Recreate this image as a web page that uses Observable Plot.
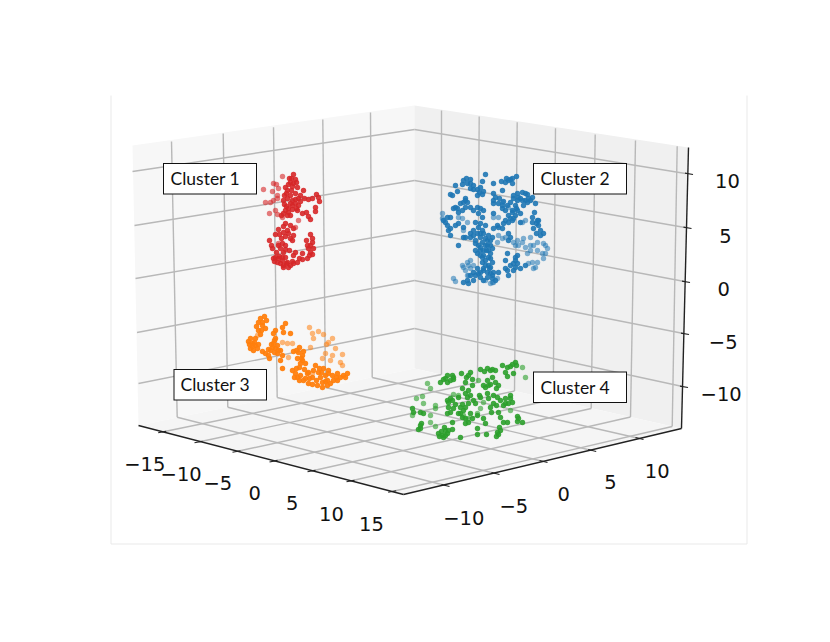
<!DOCTYPE html>
<html><head><meta charset="utf-8">
<style>html,body{margin:0;padding:0;background:#fff}svg{display:block}</style>
<script src="https://cdn.jsdelivr.net/npm/d3@7"></script>
<script src="https://cdn.jsdelivr.net/npm/@observablehq/plot@0.6"></script>
</head><body><div id="c"></div>
<script>
// All positions are in the picture plane of the 3-D projection.
const cluster1Near=[[293,174],[291,178],[295,179],[290,182],[293,183],[288,184],[297,187],[303,190],[287,190],[291,190],[286,193],[290,195],[295,193],[300,195],[287,198],[292,200],[295,199],[298,198],[292,205],[295,203],[288,208],[292,209],[285,210],[283,213],[288,212],[297,210],[302,213],[308,216],[310,219],[308,199],[312,198],[316,194],[318,197],[319,201],[315,207],[315,211],[284,204],[298,205],[285,223],[290,225],[293,228],[278,229],[283,232],[279,234],[285,236],[290,238],[292,240],[282,243],[278,245],[285,245],[310,234],[269,240],[271,245],[272,248],[312,242],[310,245],[308,248],[313,248],[310,252],[312,254],[285,249],[283,252],[295,252],[302,253],[275,257],[278,258],[282,257],[285,257],[293,255],[302,259],[307,258],[277,262],[280,263],[283,265],[290,265],[293,263],[297,262],[282,260],[287,262],[292,261],[288,267],[283,267],[273,258],[289,178],[292,186],[296,182],[285,187],[284,195],[283,200],[290,203],[286,206],[290,215],[287,215],[296,208],[300,201],[304,198],[306,212],[281,215],[275,234],[281,238],[287,230],[283,226],[288,233],[293,235],[280,248],[276,252],[289,250],[312,238],[307,245],[309,255],[306,240],[286,263],[279,256],[274,261],[299,258]];
const cluster1Far=[[263,189],[282,176],[273,183],[276,184],[272,191],[278,188],[277,195],[265,202],[270,202],[273,200],[277,198],[269,213],[275,210],[277,214],[282,217],[298,220],[295,227],[278,243]];
const cluster2Near=[[485,174],[466,178],[470,179],[482,181],[462,184],[467,183],[470,188],[480,187],[473,189],[479,192],[477,195],[482,194],[450,194],[452,195],[457,191],[493,183],[502,190],[501,181],[506,178],[510,179],[516,176],[512,183],[493,193],[513,195],[517,193],[522,192],[527,194],[532,197],[530,200],[513,198],[517,200],[515,205],[499,198],[503,201],[493,200],[493,203],[512,210],[502,208],[510,218],[520,213],[523,205],[535,203],[532,217],[537,220],[538,225],[540,230],[543,233],[477,207],[465,207],[463,202],[455,207],[458,212],[447,217],[450,217],[443,220],[447,225],[448,230],[450,235],[458,223],[463,227],[473,210],[480,208],[483,210],[480,223],[478,227],[482,230],[483,233],[473,235],[470,237],[475,240],[480,237],[482,242],[487,240],[492,237],[493,228],[498,227],[503,223],[508,222],[513,218],[520,222],[508,233],[502,228],[510,237],[490,245],[488,250],[480,250],[475,250],[480,255],[483,255],[490,253],[485,260],[482,262],[488,265],[490,258],[507,253],[517,255],[515,260],[513,263],[508,240],[465,237],[458,245],[463,237],[477,268],[473,272],[478,273],[483,270],[487,272],[490,273],[493,272],[498,272],[473,280],[467,280],[463,282],[468,283],[483,280],[492,278],[495,280],[507,270],[508,275],[513,270],[520,268],[525,265],[515,267],[480,233],[485,245],[478,245],[512,212],[516,208],[525,200],[520,198],[486,250],[475,243],[489,268],[470,275],[505,268],[533,228],[536,233],[465,200],[455,185],[470,183],[473,185],[477,189],[483,191],[463,180],[508,180],[505,182],[512,178],[518,197],[525,193],[528,198],[522,200],[510,202],[507,205],[515,215],[517,210],[508,215],[505,220],[512,220],[497,225],[488,235],[485,238],[470,233],[477,233],[473,230],[490,240],[487,245],[480,247],[483,250],[492,248],[477,253],[482,257],[488,257],[492,262],[485,265],[490,267],[483,268],[480,272],[475,275],[487,277],[492,275],[480,277],[515,257],[517,263],[510,265],[505,260],[465,198],[460,203],[457,208],[453,208],[462,210],[467,202],[470,207],[455,225],[445,222],[450,228],[536,223],[538,220],[540,235],[532,222],[534,212],[527,202],[495,197],[498,203],[502,205],[505,210],[493,213],[478,213],[482,217],[475,222],[485,225]];
const cluster2Far=[[493,217],[498,217],[462,218],[467,222],[442,213],[442,218],[530,237],[523,238],[530,245],[525,247],[543,243],[545,245],[513,242],[515,245],[518,245],[502,238],[498,235],[537,250],[542,253],[545,253],[537,262],[532,262],[528,263],[535,267],[533,268],[470,260],[467,262],[462,265],[468,265],[465,270],[468,275],[453,278],[455,281],[493,282],[485,280],[525,220],[522,222],[502,202],[508,207],[463,230],[458,217],[473,265],[470,268],[530,250],[527,253],[537,242],[533,245],[543,258],[547,248],[505,237],[517,240],[522,242],[497,242],[497,278],[490,283],[492,282],[467,275],[463,267]];
const cluster3Near=[[264,316],[260,318],[258,322],[262,325],[265,328],[258,330],[260,334],[255,338],[250,338],[248,341],[252,343],[255,345],[250,348],[253,350],[257,348],[275,330],[273,333],[275,338],[273,343],[272,347],[275,348],[270,350],[265,353],[268,355],[277,353],[280,350],[282,355],[282,327],[285,323],[283,332],[290,333],[280,360],[282,368],[293,351],[299,347],[302,355],[297,358],[302,360],[305,363],[300,363],[292,370],[295,373],[297,377],[300,375],[303,380],[308,383],[307,373],[312,377],[315,365],[318,372],[323,368],[320,377],[325,375],[328,373],[322,382],[327,380],[317,385],[322,387],[327,385],[333,380],[337,373],[340,377],[343,375],[347,373],[337,380],[332,375],[308,372],[262,322],[266,320],[256,326],[261,330],[254,342],[258,344],[249,344],[252,346],[274,340],[277,345],[271,344],[278,350],[268,349],[274,352],[262,351],[269,358],[298,352],[296,350],[303,351],[301,358],[299,367],[304,369],[296,368],[294,377],[305,378],[299,380],[309,378],[312,384],[316,380],[321,372],[325,381],[330,383],[319,368],[336,377],[328,370],[345,377],[313,370]];
const cluster3Far=[[309,327],[318,331],[323,334],[312,333],[313,338],[328,342],[332,338],[326,344],[310,347],[335,348],[342,354],[325,353],[332,355],[322,358],[330,360],[340,362],[342,365],[282,342],[287,343],[292,343],[257,335],[288,357],[312,373]];
const cluster4Near=[[515,362],[512,364],[507,367],[502,365],[513,373],[507,376],[492,369],[487,368],[480,369],[470,372],[461,373],[453,377],[447,375],[443,379],[440,382],[453,379],[447,382],[466,377],[472,379],[465,382],[472,385],[462,388],[492,377],[495,382],[488,385],[485,387],[496,388],[487,393],[479,395],[493,395],[465,393],[467,397],[450,398],[447,400],[458,397],[473,400],[497,397],[505,398],[510,398],[512,402],[505,403],[493,403],[490,407],[503,405],[448,407],[453,408],[460,407],[465,407],[447,413],[460,413],[462,417],[470,413],[477,415],[498,412],[500,417],[483,418],[468,422],[485,423],[503,422],[507,422],[517,416],[517,421],[522,422],[420,425],[418,429],[438,433],[442,435],[445,430],[448,430],[452,429],[443,437],[497,432],[500,430],[498,434],[477,428],[460,437],[477,434],[486,434],[465,423],[452,422],[412,408],[413,412],[420,412],[423,413],[452,375],[450,380],[445,378],[468,375],[484,371],[490,370],[495,370],[510,366],[516,365],[505,372],[487,380],[490,384],[498,385],[483,385],[468,390],[470,395],[452,400],[448,402],[455,404],[462,404],[468,403],[475,403],[480,397],[488,398],[500,400],[508,403],[510,395],[496,405],[491,412],[472,418],[465,418],[458,413],[463,410],[450,412],[518,418],[420,428],[421,423],[445,435],[441,431],[439,436],[447,433],[444,427],[496,436],[499,427]];
const cluster4Far=[[416,398],[422,396],[427,383],[430,388],[423,403],[435,405],[435,408],[430,415],[430,422],[435,426],[412,415],[522,367],[525,377],[478,380],[453,394],[458,395],[483,402],[480,408],[477,413],[463,415],[468,418],[510,410]];

const clusterNames=["Cluster 1","Cluster 2","Cluster 3","Cluster 4"];
const clusterColors=["#d62728","#1f77b4","#ff7f0e","#2ca02c"];
const clusterBoxes=[[163.5,256.5,163.5,194],[533.5,626.5,163.5,194],[174,266.5,369.5,400],[533.5,626.5,372,402.5]];

const paneLeft=[[132,145],[414,105],[414,368],[138,425]];
const paneRight=[[414,105],[688,147],[681,428],[414,368]];
const paneFloor=[[138,425],[414,368],[681,428],[403,494]];

// grid lines, as [x1,y1,x2,y2]
const wallHLeft=[[132,171,414,129],[134,225,414,180],[135,278,414,230],[136.5,332,414,280],[138,383,414,328]];
const wallHRight=[[414,129,685,173],[414,180,684.5,227],[414,230,684,281],[414,280,683,333],[414,328,682,386]];
const wallVLeft=[[171,141,176.7,416.7],[222.7,133,227.3,406.7],[273,126.7,276.7,397],[322.3,119,325,387],[370,112,371.7,377]];
const wallVRight=[[441,110,441,374],[478.7,116,477,382],[516.7,121.7,514,390.5],[555,127.7,552.7,399],[594.7,134,590.7,408],[635,140,630,416.5],[676.7,145.7,671.7,426]];
const floorA=[[161.7,431.5,441,374],[198,441.5,477,382],[236,451,514,390.5],[273,460.7,552.7,399],[311,470.5,590.7,408],[350,480.5,630,416.5],[391.7,491,671.7,426]];
const floorB=[[176.7,416.7,445,485],[227.3,406.7,495,473],[276.7,397,543,461],[325,387,591.7,450],[371.7,377,639,438]];

const axisLines=[[138,425,403,494],[403,494,681,428],[681,428,688,147]];
const zTicks=[[682,386],[683,333],[684,281],[685.5,227],[687,173]];
const leftTicks=[[161.7,431.5],[198,441.5],[236,451],[273,460.7],[311,470.5],[350,480.5],[391.7,491]];
const rightTicks=[[445,485],[495,473],[543,461],[591.7,450],[639,438]];

const zLabels=[["−10",720.7,394],["−5",722.7,342],["0",723.3,289],["5",725,236],["10",727,181]];
const leftLabels=[["−15",144.3,464],["−10",180.7,474],["−5",217.3,483],["0",254.3,493],["5",291.7,503],["10",331,514],["15",371,524]];
const rightLabels=[["−10",463.3,518],["−5",513.3,506],["0",563.3,494],["5",610,482],["10",656.7,471]];
const labelCenters=[[170,179],[540,179],[180,385],[540,387.5]];

const frame=[[110.5,95,110.5,543.5],[110.5,543.5,746.5,543.5],[746.5,95,746.5,543.5]];

const seg=a=>({x1:d=>d[0],y1:d=>d[1],x2:d=>d[2],y2:d=>d[3]});
const poly=(p,fill)=>Plot.line([...p,p[0]],{x:d=>d[0],y:d=>d[1],fill,stroke:"none"});
const grid=a=>Plot.link(a,{...seg(),stroke:"#b8b8b8",strokeWidth:1.4,imageFilter:"blur(0.2px)"});
const dots=(a,fill,op)=>Plot.dot(a,{x:d=>d[0],y:d=>d[1],r:2.7,fill,fillOpacity:op,stroke:"none",imageFilter:"blur(0.25px)"});
const tickFont={fontFamily:"DejaVu Sans",fontSize:19.5,fill:"#111"};
const labels=a=>Plot.text(a,{x:d=>d[1],y:d=>d[2],text:d=>d[0],textAnchor:"middle",lineAnchor:"middle",...tickFont});

const chart=Plot.plot({
  width:830,height:642,margin:0,
  x:{domain:[0,830],range:[0,830],axis:null},
  y:{domain:[0,642],range:[0,642],axis:null},
  style:{background:"#fff"},
  marks:[
    Plot.link(frame,{...seg(),stroke:"#e9e9e9",strokeWidth:1}),
    poly(paneLeft,"#f7f7f7"),poly(paneRight,"#f0f0f0"),poly(paneFloor,"#f5f5f5"),
    grid(wallHLeft),grid(wallHRight),grid(wallVLeft),grid(wallVRight),grid(floorA),grid(floorB),
    Plot.link(axisLines,{...seg(),stroke:"#222",strokeWidth:1.4}),
    Plot.link(zTicks,{x1:d=>d[0]-2.5,y1:d=>d[1]-0.4,x2:d=>d[0]+5.5,y2:d=>d[1]+1,stroke:"#222",strokeWidth:1.1}),
    Plot.link(leftTicks,{x1:d=>d[0]-4,y1:d=>d[1]+0.8,x2:d=>d[0]+4,y2:d=>d[1]-0.8,stroke:"#222",strokeWidth:1.1}),
    Plot.link(rightTicks,{x1:d=>d[0]-4,y1:d=>d[1]-1,x2:d=>d[0]+4,y2:d=>d[1]+1,stroke:"#222",strokeWidth:1.1}),
    labels(zLabels),labels(leftLabels),labels(rightLabels),
    dots(cluster1Far,clusterColors[0],0.6),dots(cluster2Far,clusterColors[1],0.55),dots(cluster3Far,clusterColors[2],0.55),dots(cluster4Far,clusterColors[3],0.6),
    dots(cluster1Near,clusterColors[0],0.9),dots(cluster2Near,clusterColors[1],0.9),dots(cluster3Near,clusterColors[2],0.95),dots(cluster4Near,clusterColors[3],0.9),
    Plot.rect(clusterBoxes,{x1:d=>d[0],x2:d=>d[1],y1:d=>d[2],y2:d=>d[3],fill:"#fff",stroke:"#111",strokeWidth:1}),
    Plot.text(clusterNames,{x:(d,i)=>labelCenters[i][0],y:(d,i)=>labelCenters[i][1],text:d=>d,textAnchor:"start",lineAnchor:"middle",fontFamily:"Lato",fontSize:17.5,fill:"#111"})
  ]
});
document.getElementById("c").append(chart);
</script></body></html>
